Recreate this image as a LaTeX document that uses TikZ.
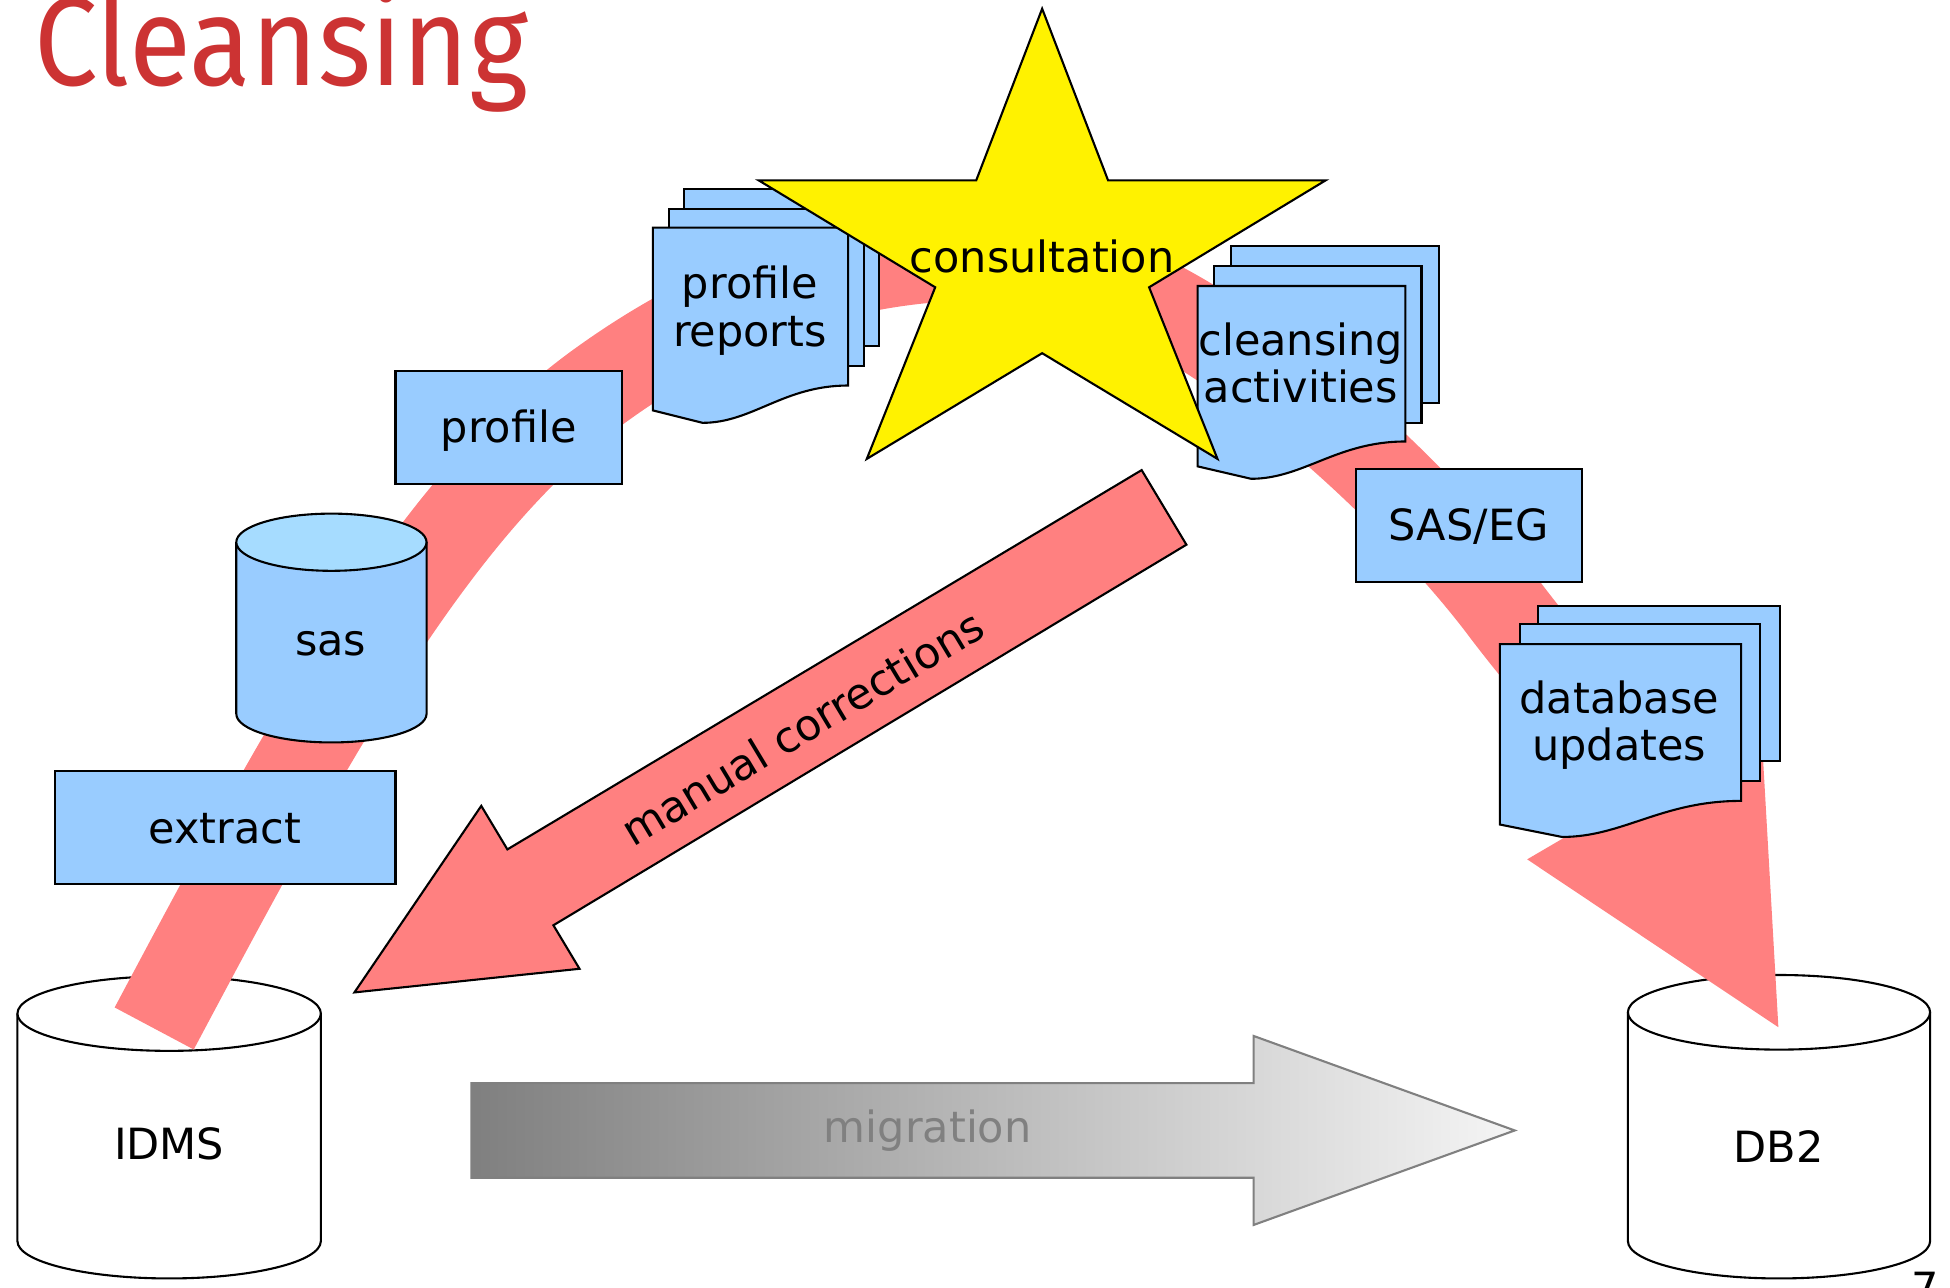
\documentclass[tikz,border=0pt]{standalone}
\usepackage{fontspec}
\setmainfont{DejaVu Sans}
\newfontfamily\titlefont[FakeStretch=0.9]{Fira Sans}
\usepackage{xcolor}
\definecolor{boxblue}{HTML}{99CCFF}
\definecolor{lidblue}{HTML}{A6DCFF}
\definecolor{flowred}{HTML}{FF8080}
\definecolor{titlered}{HTML}{CC3333}

\begin{document}
\begin{tikzpicture}[x=0.0125cm, y=-0.0125cm, font=\fontsize{12.3}{13.6}\selectfont,
    box/.style={fill=boxblue, draw=black, line width=0.6pt},
    cyl/.style={fill=white, draw=black, line width=0.6pt},
    flow/.style={draw=flowred, line width=0.9cm},
    lbl/.style={align=center, inner sep=0pt}]

    \useasboundingbox (0,0) rectangle (1568,1035);

    % titulo
    \node[anchor=base west, inner sep=0pt, text=titlered,
          font=\titlefont\fontsize{36}{36}\selectfont] (title) at (27,68.5) {Cleansing};

    % base origen
    \draw[cyl] (14,815) -- (14,998) arc[start angle=180, end angle=0, x radius=122, y radius=30] -- (258,815);
    \draw[cyl] (136,815) ellipse [x radius=122, y radius=30];
    \node (idms) at (136,920) {IDMS};

    % base destino
    \draw[cyl] (1309,814) -- (1309,998) arc[start angle=180, end angle=0, x radius=121.5, y radius=30] -- (1552,814);
    \draw[cyl] (1430.5,814) ellipse [x radius=121.5, y radius=30];
    \node (db2) at (1430,922) {DB2};

    % banda de subida
    \draw[flow] (124,827) .. controls (250,590) and (350,405) .. (484,309)
                .. controls (580,240) and (680,205) .. (800,205);

    % banda de bajada
    \draw[flow] (880,222) .. controls (1010,270) and (1150,410) .. (1210,490)
                .. controls (1260,556) and (1290,580) .. (1322,636);
    \fill[flowred] (1228,691) -- (1416,581) -- (1430,826) -- cycle;

    % correcciones manuales
    \draw[fill=flowred, line width=0.6pt] (918,378) -- (954,438) -- (445,744) -- (466,779)
          -- (285,798) -- (387,648) -- (408,683) -- cycle;
    \node[rotate=31] (manual) at (645,585) {manual corrections};

    % migracion
    \shadedraw[left color=black!50, right color=black!4, draw=black!50, line width=0.6pt]
          (379,871) -- (1008,871) -- (1008,833) -- (1218,909) -- (1008,985) -- (1008,947) -- (379,947) -- cycle;
    \node[text=black!50] (migration) at (746,909) {migration};

    % extraccion
    \draw[box] (44,620) rectangle (318,711);
    \node (extract) at (181,666) {extract};

    % sas
    \draw[box] (190,436) -- (190,574) arc[start angle=180, end angle=0, x radius=76.5, y radius=23] -- (343,436);
    \draw[box, fill=lidblue] (266.5,436) ellipse [x radius=76.5, y radius=23];
    \node (sas) at (266,518) {sas};

    % perfil
    \draw[box] (318,298) rectangle (500,389);
    \node (profile) at (409,346) {profile};

    % informes de perfil
    \draw[box] (550,152) rectangle (707,278);
    \draw[box] (538,168) rectangle (695,294);
    \draw[box] (525,183) -- (682,183) -- (682,310) .. controls (630,310) and (605,340) .. (565,340) -- (525,330) -- cycle;
    \node[lbl] (reports) at (603,250) {profile\\reports};

    % actividades de limpieza
    \draw[box] (990,198) rectangle (1157,324);
    \draw[box] (976,214) rectangle (1143,340);
    \draw[box] (963,230) -- (1130,230) -- (1130,355) .. controls (1075,355) and (1048,385) .. (1006,385) -- (963,375) -- cycle;
    \node[lbl] (cleansing) at (1046,292) {cleansing\\activities};

    % SAS/EG
    \draw[box] (1090,377) rectangle (1272,468);
    \node (saseg) at (1181,423) {SAS/EG};

    % actualizaciones
    \draw[box] (1237,487) rectangle (1431,612);
    \draw[box] (1222,502) rectangle (1415,628);
    \draw[box] (1206,518) -- (1400,518) -- (1400,644) .. controls (1336,644) and (1305,673) .. (1256,673) -- (1206,663) -- cycle;
    \node[lbl] (updates) at (1302,583) {database\\updates};

    % consulta
    \draw[fill=yellow, line width=0.6pt] (838,7) -- (891,145) -- (1066,145) -- (924,231) -- (979,369)
          -- (838,284) -- (697,369) -- (752,231) -- (610,145) -- (785,145) -- cycle;
    \node (consult) at (838,206) {consultation};

    % numero de pagina
    \node[anchor=north, inner sep=0pt] (pagenum) at (1548,1022) {7};

\end{tikzpicture}
\end{document}
